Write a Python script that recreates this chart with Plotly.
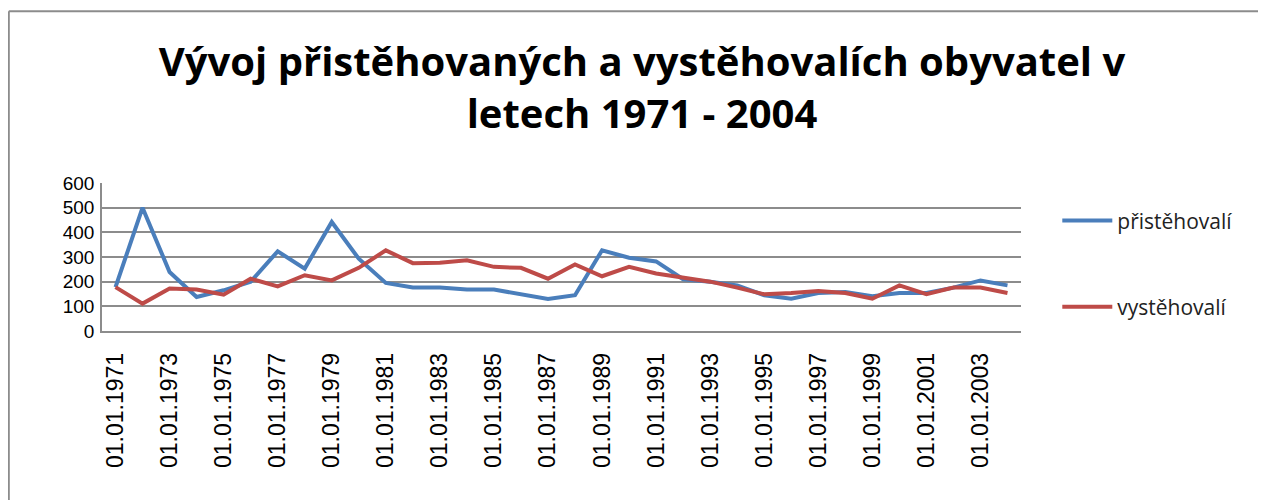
import plotly.graph_objects as go

years = list(range(1971, 2005))
categories = ["01.01.%d" % y for y in years]

pristehovali = [178, 500, 239, 138, 165, 200, 323, 253, 442, 293, 195, 176,
                176, 168, 168, 149, 130, 145, 327, 297, 282, 210, 200, 185,
                145, 131, 154, 158, 141, 154, 154, 176, 205, 185]
vystehovali = [178, 111, 172, 168, 147, 212, 181, 226, 205, 256, 327, 275,
               277, 287, 260, 256, 212, 270, 222, 260, 233, 215, 200, 176,
               149, 154, 162, 154, 131, 185, 149, 176, 176, 154]

tick_labels = categories[::2]

OFF = 8  # default page body margin
W, H = 1266 - OFF, 500 - OFF
# plot area in page pixels
L, R, T, B = 101.7, 1020.7, 182.7, 330.7
ml, mr, mt, mb = L - OFF, 1266 - R, T - OFF, 500 - B
pw, ph = R - L, B - T


def px(xpage):
    return (xpage - L) / pw


def py(ypage):
    return (B - ypage) / ph


fig = go.Figure()
fig.add_trace(go.Scatter(x=categories, y=pristehovali, mode="lines", name="přistěhovalí",
                         legendgroup="a", line=dict(color="#4A7EBB", width=4)))
fig.add_trace(go.Scatter(x=categories, y=vystehovali, mode="lines", name="vystěhovalí",
                         legendgroup="b", line=dict(color="#BE4B48", width=4)))

frame = dict(color="#8C8C8C", width=2)
fig.add_shape(type="line", xref="paper", yref="paper",
              x0=px(8.5), x1=px(8.5), y0=py(560), y1=py(11), line=frame, layer="below")
fig.add_shape(type="line", xref="paper", yref="paper",
              x0=px(8.5), x1=px(1266), y0=py(11), y1=py(11), line=frame, layer="below")

fig.update_layout(
    width=W, height=H,
    margin=dict(l=ml, r=mr, t=mt, b=mb, autoexpand=False),
    paper_bgcolor="white", plot_bgcolor="white",
    title=dict(text="<b>Vývoj přistěhovaných a vystěhovalích obyvatel v<br>letech 1971 - 2004</b>",
               x=(642 - OFF) / W, xanchor="center", xref="container",
               y=1 - 68 / H, yanchor="top", yref="container",
               font=dict(family="Open Sans", size=40, color="black")),
    showlegend=True,
    legend=dict(x=px(1057), y=py(200), xanchor="left", yanchor="top",
                font=dict(family="Open Sans", size=21, color="#222"),
                tracegroupgap=56, itemwidth=50, bgcolor="rgba(0,0,0,0)"),
    xaxis=dict(type="category", tickmode="array", tickvals=tick_labels, ticktext=tick_labels,
               tickangle=-90, showgrid=False, showline=True, linecolor="#8C8C8C", linewidth=1.5,
               ticks="", ticklabelstandoff=11,
               tickfont=dict(family="Liberation Sans", size=23, color="black"),
               range=[-0.5, len(categories) - 0.5]),
    yaxis=dict(range=[0, 600], dtick=100, showgrid=True, gridcolor="#8C8C8C", gridwidth=1.5,
               showline=True, linecolor="#8C8C8C", linewidth=1.5, zeroline=False, ticks="",
               ticklabelstandoff=2,
               tickfont=dict(family="Liberation Sans", size=19, color="black")),
)

fig.write_html("out.html")
